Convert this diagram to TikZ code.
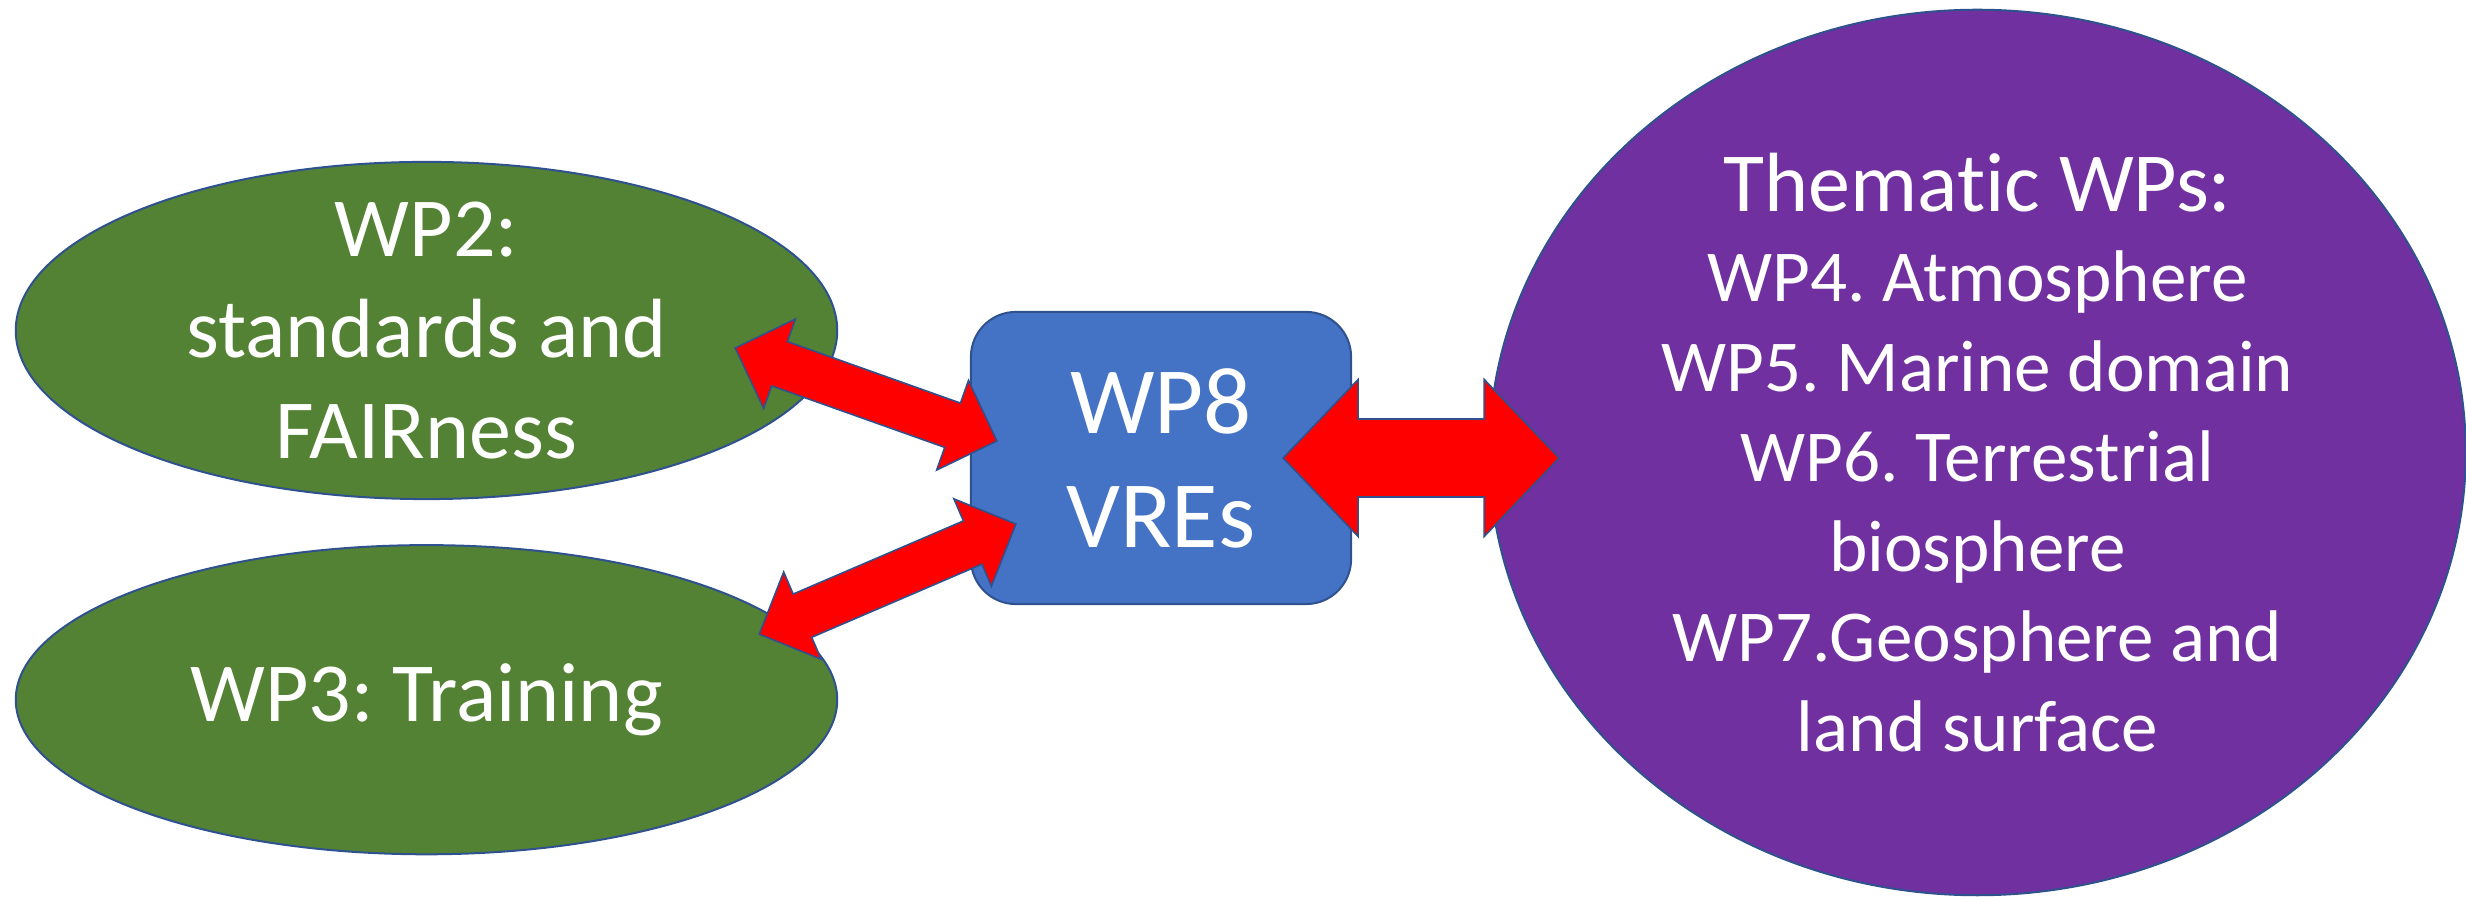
\documentclass[tikz,border=0pt]{standalone}
\usepackage{fontspec}
\setmainfont{Carlito}[Ligatures=NoCommon]
\usepackage{xcolor}
\usepackage{tikz}
\usetikzlibrary{shapes.geometric, positioning, calc}
\frenchspacing

\definecolor{wpgreen}{HTML}{548235}
\definecolor{wpblue}{HTML}{4472C4}
\definecolor{wppurple}{HTML}{7030A0}
\definecolor{wpedge}{HTML}{2F528F}

% fat double arrow: from, to, head length, head half width, shaft half width
\newcommand{\fatarrow}[5]{%
    \draw[redarrow] (#1)
        -- ($(#1)!#3!(#2)!#4!90:(#2)$) -- ($(#1)!#3!(#2)!#5!90:(#2)$)
        -- ($(#2)!#3!(#1)!#5!-90:(#1)$) -- ($(#2)!#3!(#1)!#4!-90:(#1)$)
        -- (#2)
        -- ($(#2)!#3!(#1)!#4!90:(#1)$) -- ($(#2)!#3!(#1)!#5!90:(#1)$)
        -- ($(#1)!#3!(#2)!#5!-90:(#2)$) -- ($(#1)!#3!(#2)!#4!-90:(#2)$)
        -- cycle;%
}

\begin{document}
\begin{tikzpicture}[
    x=0.01cm, y=0.01cm,
    wpnode/.style={draw=wpedge, line width=0.57pt, text=white, align=center, inner sep=0pt},
    greenwp/.style={wpnode, ellipse, fill=wpgreen, minimum width=8.21cm, inner ysep=-0.2cm, font=\fontsize{23.9}{28.7}\selectfont},
    vrebox/.style={wpnode, rectangle, rounded corners=0.45cm, fill=wpblue, minimum width=3.8cm, minimum height=2.92cm, font=\fontsize{27}{32.4}\selectfont},
    themwp/.style={wpnode, ellipse, fill=wppurple, minimum width=9.76cm, minimum height=8.85cm, font=\fontsize{20.8}{25.6}\selectfont},
    redarrow/.style={draw=wpedge, line width=0.45pt, fill=red, line join=miter}
]
    \useasboundingbox (0,0) rectangle (2466,897);

    % Work packages
    \node[greenwp, minimum height=3.37cm] (wp2) at (426.5,566.5) {WP2:\\standards and\\FAIRness};
    \node[greenwp, minimum height=3.09cm, below=0.44cm of wp2] (wp3) {WP3: Training};
    \node[vrebox] (wp8) at (1161,439) {WP8\\VREs};
    \node[themwp, right=1.36cm of wp8, yshift=0.055cm] (them) {%
        {\fontsize{23.9}{25.6}\selectfont Thematic WPs:}\\
        WP4. Atmosphere\\
        WP5. Marine domain\\
        WP6. Terrestrial\\
        biosphere\\
        WP7.Geosphere and\\
        land surface};

    % Arrow ends
    \coordinate (fair) at ($(wp2.east)+(-103,-17.5)$);
    \coordinate (vrefair) at ($(wp8.west)+(27,17)$);
    \coordinate (train) at ($(wp3.east)+(-79,65.5)$);
    \coordinate (vretrain) at ($(wp8.west)+(46,-66)$);
    \coordinate (vrethem) at ($(wp8.east)+(-69,0)$);
    \coordinate (thematic) at ($(them.west)+(71,-5.5)$);

    % Arrows
    \fatarrow{fair}{vrefair}{0.47cm}{0.475cm}{0.235cm}
    \fatarrow{train}{vretrain}{0.47cm}{0.475cm}{0.235cm}
    \fatarrow{vrethem}{thematic}{0.75cm}{0.785cm}{0.39cm}
\end{tikzpicture}
\end{document}
